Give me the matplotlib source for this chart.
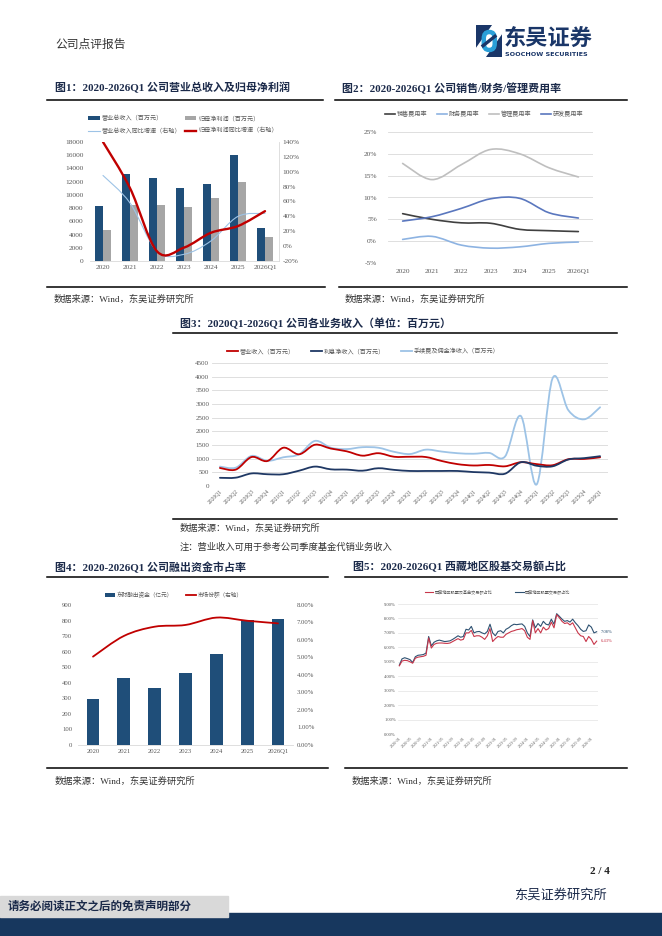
import numpy as np
import matplotlib
matplotlib.use('Agg')
import matplotlib.pyplot as plt
from matplotlib.path import Path
from matplotlib.patches import PathPatch, Rectangle, Patch, FancyBboxPatch, Polygon
from matplotlib.lines import Line2D

# ---------------- data ----------------
years1 = ['2020', '2021', '2022', '2023', '2024', '2025', '2026Q1']
revenue1 = [8300, 13100, 12500, 11100, 11600, 16100, 5000]
netprofit1 = [4700, 8500, 8450, 8150, 9600, 12000, 3700]
rev_yoy1 = [95, 58, -7, -11, 7, 40, 44]
np_yoy1 = [140, 78, -7, -2, 18, 27, 47]

years2 = ['2020', '2021', '2022', '2023', '2024', '2025', '2026Q1']
sales_rate = [6.3, 5.0, 4.2, 4.1, 2.7, 2.4, 2.2]
fin_rate = [0.4, 1.1, -0.9, -1.6, -1.3, -0.5, -0.2]
admin_rate = [17.8, 14.1, 17.5, 21.0, 20.0, 16.8, 14.7]
rd_rate = [4.6, 5.6, 7.5, 9.7, 9.8, 6.5, 5.3]

quarters3 = ['2020Q1', '2020Q2', '2020Q3', '2020Q4', '2021Q1', '2021Q2', '2021Q3', '2021Q4',
             '2022Q1', '2022Q2', '2022Q3', '2022Q4', '2023Q1', '2023Q2', '2023Q3', '2023Q4',
             '2024Q1', '2024Q2', '2024Q3', '2024Q4', '2025Q1', '2025Q2', '2025Q3', '2025Q4', '2026Q1']
op_income3 = [660, 600, 1060, 915, 1400, 1160, 1510, 1370, 1270, 1110, 1200, 1070, 1070,
              1060, 915, 800, 750, 770, 720, 870, 800, 760, 980, 990, 1050]
int_income3 = [300, 305, 460, 430, 430, 560, 710, 610, 600, 560, 650, 590, 550,
               550, 550, 550, 510, 490, 450, 870, 740, 720, 970, 1020, 1090]
fee_income3 = [710, 670, 1100, 920, 1050, 1160, 1650, 1400, 1350, 1420, 1400, 1250, 1170,
               1330, 1260, 1200, 1180, 1210, 1080, 2560, 60, 3940, 2770, 2440, 2880]

years4 = ['2020', '2021', '2022', '2023', '2024', '2025', '2026Q1']
margin_fin4 = [296, 433, 364, 460, 587, 803, 810]
mkt_share4 = [5.05, 6.23, 6.76, 6.86, 7.28, 7.10, 6.95]

xt_labels5 = ['2020-01', '2020-05', '2020-09', '2021-01', '2021-05', '2021-09', '2022-01',
              '2022-05', '2022-09', '2023-01', '2023-05', '2023-09', '2024-01', '2024-05',
              '2024-09', '2025-01', '2025-05', '2025-09', '2026-01']
stock_share5 = [4.77, 5.20, 5.28, 5.22, 5.15, 4.95, 5.35, 5.45, 5.47, 5.50, 5.60, 6.75, 6.10,
                6.35, 6.45, 6.50, 6.45, 6.40, 6.42, 6.45, 6.55, 6.67, 6.80, 6.70, 6.75, 7.25,
                7.20, 7.45, 7.00, 7.08, 7.10, 7.00, 6.93, 7.10, 7.60, 7.00, 6.80, 7.10, 7.15,
                7.00, 7.25, 7.35, 7.50, 7.60, 7.57, 7.60, 7.62, 7.45, 7.00, 6.75, 7.90, 7.35,
                7.65, 7.45, 7.80, 7.60, 7.55, 7.95, 7.60, 8.33, 8.15, 7.95, 7.80, 7.85, 7.75,
                7.95, 7.70, 7.50, 7.25, 7.10, 7.15, 7.55, 7.40, 7.00, 7.08]
stockfund_share5 = [4.72, 5.05, 5.10, 5.08, 5.00, 4.90, 5.25, 5.32, 5.35, 5.38, 5.45, 6.65, 5.95,
                    6.20, 6.28, 6.30, 6.30, 6.28, 6.27, 6.30, 6.40, 6.50, 6.60, 6.50, 6.55, 7.00,
                    7.00, 7.17, 6.75, 6.80, 6.80, 6.70, 6.55, 6.80, 7.30, 6.40, 6.60, 6.75, 6.70,
                    6.70, 6.90, 7.00, 7.10, 7.15, 7.22, 7.25, 7.30, 7.15, 6.70, 6.55, 7.85, 7.00,
                    7.30, 7.00, 7.40, 7.20, 7.30, 7.75, 7.35, 8.26, 8.05, 7.80, 7.65, 7.70, 7.55,
                    7.70, 7.35, 7.00, 6.80, 6.75, 6.40, 6.75, 6.55, 6.20, 6.43]

# ---------------- setup ----------------
W, H = 662, 936
CJK = ['Noto Sans CJK SC', 'DejaVu Sans']
plt.rcParams['font.family'] = ['Liberation Serif', 'Noto Sans CJK SC', 'DejaVu Sans']
plt.rcParams['axes.unicode_minus'] = False
fig = plt.figure(figsize=(W / 100, H / 100), dpi=100)

NAVY = '#1f4e79'
GRAYB = '#a6a6a6'
RED = '#c00000'
LBLUE = '#9dc3e6'
TICK = '#595959'
TITLE = '#1b2a4a'
GRID = '#d9d9d9'


def add_ax(x0, y0, x1, y1):
    return fig.add_axes([x0 / W, 1 - y1 / H, (x1 - x0) / W, (y1 - y0) / H])


def ftext(x, y, s, **kw):
    kw.setdefault('va', 'center')
    fig.text(x / W, 1 - y / H, s, **kw)


def hline(x0, x1, y, lw=1.1, color='black'):
    fig.add_artist(Line2D([x0 / W, x1 / W], [1 - y / H, 1 - y / H], lw=lw, color=color,
                          transform=fig.transFigure))


def smooth(ax, x, y, color, lw, zorder=3):
    x = np.asarray(x, float)
    y = np.asarray(y, float)
    n = len(x)
    verts = [(x[0], y[0])]
    codes = [Path.MOVETO]
    for i in range(n - 1):
        a = i - 1 if i > 0 else 0
        b = i + 2 if i + 2 < n else n - 1
        c1 = (x[i] + (x[i + 1] - x[a]) / 6, y[i] + (y[i + 1] - y[a]) / 6)
        c2 = (x[i + 1] - (x[b] - x[i]) / 6, y[i + 1] - (y[b] - y[i]) / 6)
        verts += [c1, c2, (x[i + 1], y[i + 1])]
        codes += [Path.CURVE4] * 3
    ax.add_patch(PathPatch(Path(verts, codes), facecolor='none', edgecolor=color, lw=lw,
                           zorder=zorder, capstyle='round', joinstyle='round'))


def legend_at(ax, handles, labels, x, y, ncol, fs, hl, cs, htp=0.4, ls=0.6):
    leg = ax.legend(handles, labels, loc='center left', bbox_to_anchor=(x / W, 1 - y / H),
                    bbox_transform=fig.transFigure, ncol=ncol, frameon=False,
                    handlelength=hl, columnspacing=cs, handletextpad=htp, borderpad=0,
                    borderaxespad=0, labelspacing=ls, prop={'family': CJK, 'size': fs})
    for t in leg.get_texts():
        t.set_color(TICK)
    return leg


def clean(ax, keep=()):
    for s in ['top', 'bottom', 'left', 'right']:
        ax.spines[s].set_visible(s in keep)


# ---------------- header ----------------
ftext(55, 44, '公司点评报告', fontsize=8.5, color='#333333', family=CJK)
lax = add_ax(476, 25, 502, 57)
lax.set_xlim(0, 1)
lax.set_ylim(0, 1)
lax.axis('off')
lax.add_patch(Rectangle((0, 0), 1, 1, color='#1a3668'))
lax.add_patch(Polygon([(0, 0), (0.35, 0), (1, 0.75), (1, 1), (0.65, 1), (0, 0.25)], color='white'))
lax.add_patch(FancyBboxPatch((0.3, 0.22), 0.42, 0.56,
                             boxstyle='round,pad=0,rounding_size=0.2', fc='none', ec='#2a9fd8', lw=3.2))
lax.add_patch(Polygon([(0.22, 0.32), (0.5, 0.5), (0.78, 0.68)], closed=False, fill=False, ec='#1a3668', lw=2.4))
ftext(504, 38, '东吴证券', fontsize=16, color='#1a3668', family=CJK, weight='bold')
ftext(505, 54, 'SOOCHOW SECURITIES', fontsize=4.6, color='#1a3668', family=['DejaVu Sans'], weight='bold')

# ---------------- titles / separators ----------------
TFS = 7.9
ftext(55, 88, '图1：2020-2026Q1 公司营业总收入及归母净利润', fontsize=TFS, weight='bold', color=TITLE)
ftext(342, 88, '图2：2020-2026Q1 公司销售/财务/管理费用率', fontsize=TFS, weight='bold', color=TITLE)
hline(47, 323, 100)
hline(335, 627, 100)
hline(47, 325, 287)
hline(339, 627, 287)
ftext(54, 299, '数据来源：Wind，东吴证券研究所', fontsize=6.7, color='#333333')
ftext(345, 299, '数据来源：Wind，东吴证券研究所', fontsize=6.7, color='#333333')

ftext(180, 323, '图3：2020Q1-2026Q1 公司各业务收入（单位：百万元）', fontsize=TFS, weight='bold', color=TITLE)
hline(173, 617, 333)
hline(173, 617, 519)
ftext(180, 528, '数据来源：Wind，东吴证券研究所', fontsize=6.7, color='#333333')
ftext(180, 547, '注：营业收入可用于参考公司季度基金代销业务收入', fontsize=6.7, color='#333333')

ftext(55, 567, '图4：2020-2026Q1 公司融出资金市占率', fontsize=TFS, weight='bold', color=TITLE)
ftext(353, 567, '图5：2020-2026Q1 西藏地区股基交易额占比', fontsize=TFS, weight='bold', color=TITLE)
hline(47, 328, 577)
hline(345, 627, 577)
hline(47, 328, 768)
hline(345, 627, 768)
ftext(55, 781, '数据来源：Wind，东吴证券研究所', fontsize=6.7, color='#333333')
ftext(352, 781, '数据来源：Wind，东吴证券研究所', fontsize=6.7, color='#333333')

# ---------------- Fig 1 ----------------
ax1 = add_ax(89.5, 142, 278.5, 261)
x1 = np.arange(len(years1))
ax1.bar(x1 - 0.15, revenue1, 0.3, color=NAVY, zorder=2)
ax1.bar(x1 + 0.15, netprofit1, 0.3, color=GRAYB, zorder=2)
ax1.set_xlim(-0.5, len(years1) - 0.5)
ax1.set_ylim(0, 18000)
ax1.set_yticks(range(0, 18001, 2000))
ax1.set_xticks(x1)
ax1.set_xticklabels(years1)
clean(ax1, keep=('bottom',))
ax1.spines['bottom'].set_color(GRID)
ax1.spines['bottom'].set_linewidth(0.6)
ax1.tick_params(axis='y', length=0, labelsize=5.3, labelcolor=TICK, pad=4.5)
ax1.tick_params(axis='x', length=0, labelsize=5.3, labelcolor=TICK, pad=3.2)
ax1r = ax1.twinx()
ax1r.set_ylim(-20, 140)
ax1r.set_yticks(range(-20, 141, 20))
ax1r.set_yticklabels([f'{v}%' for v in range(-20, 141, 20)])
clean(ax1r, keep=('right',))
ax1r.spines['right'].set_color(GRID)
ax1r.spines['right'].set_linewidth(0.6)
ax1r.tick_params(axis='y', length=0, labelsize=5.3, labelcolor=TICK, pad=3)
smooth(ax1r, x1, rev_yoy1, LBLUE, 0.8)
smooth(ax1r, x1, np_yoy1, RED, 1.7)
legend_at(ax1r,
          [Patch(facecolor=NAVY), Line2D([], [], color=LBLUE, lw=0.8),
           Patch(facecolor=GRAYB), Line2D([], [], color=RED, lw=1.7)],
          ['营业总收入（百万元）', '营业总收入同比增速（右轴）', '归母净利润（百万元）', '归母净利润同比增速（右轴）'],
          88, 124.5, 2, 4.4, 1.9, 0.6, htp=0.3, ls=0.75)

# ---------------- Fig 2 ----------------
ax2 = add_ax(388, 132, 593, 263)
x2 = np.arange(len(years2))
ax2.set_xlim(-0.5, len(years2) - 0.5)
ax2.set_ylim(-5, 25)
ax2.set_yticks(range(-5, 26, 5))
ax2.set_yticklabels([f'{v}%' for v in range(-5, 26, 5)])
ax2.set_xticks(x2)
ax2.set_xticklabels(years2)
clean(ax2)
ax2.grid(axis='y', color=GRID, lw=0.6)
ax2.set_axisbelow(True)
ax2.tick_params(axis='y', length=0, labelsize=5.3, labelcolor=TICK, pad=8)
ax2.tick_params(axis='x', length=0, labelsize=5.3, labelcolor=TICK, pad=4)
c_sales, c_fin, c_admin, c_rd = '#404040', '#8db3e2', '#bfbfbf', '#5a77be'
smooth(ax2, x2, sales_rate, c_sales, 1.2)
smooth(ax2, x2, fin_rate, c_fin, 1.2)
smooth(ax2, x2, admin_rate, c_admin, 1.2)
smooth(ax2, x2, rd_rate, c_rd, 1.2)
legend_at(ax2, [Line2D([], [], color=c, lw=1.2) for c in (c_sales, c_fin, c_admin, c_rd)],
          ['销售费用率', '财务费用率', '管理费用率', '研发费用率'], 385, 114, 4, 4.4, 1.6, 1.6, htp=0.3)

# ---------------- Fig 3 ----------------
ax3 = add_ax(212, 363, 608, 486)
x3 = np.arange(len(quarters3))
ax3.set_xlim(-0.5, len(quarters3) - 0.5)
ax3.set_ylim(0, 4500)
ax3.set_yticks(range(0, 4501, 500))
ax3.set_xticks(x3)
ax3.set_xticklabels(quarters3, rotation=45, ha='right', rotation_mode='anchor')
clean(ax3)
ax3.grid(axis='y', color=GRID, lw=0.6)
ax3.set_axisbelow(True)
ax3.tick_params(axis='y', length=0, labelsize=5.0, labelcolor=TICK, pad=2)
ax3.tick_params(axis='x', length=0, labelsize=4.0, labelcolor=TICK, pad=2)
c3_red, c3_navy, c3_lb = '#c00000', '#1f3864', '#9dc3e6'
smooth(ax3, x3, fee_income3, c3_lb, 1.3, zorder=3)
smooth(ax3, x3, op_income3, c3_red, 1.3, zorder=4)
smooth(ax3, x3, int_income3, c3_navy, 1.3, zorder=5)
legend_at(ax3, [Line2D([], [], color=c, lw=1.3) for c in (c3_red, c3_navy, c3_lb)],
          ['营业收入（百万元）', '利息净收入（百万元）', '手续费及佣金净收入（百万元）'],
          227, 351, 3, 4.4, 1.8, 2.6, htp=0.3)

# ---------------- Fig 4 ----------------
ax4 = add_ax(77.6, 605, 293.4, 745)
x4 = np.arange(len(years4))
ax4.bar(x4, margin_fin4, 0.42, color=NAVY, zorder=2)
ax4.set_xlim(-0.5, len(years4) - 0.5)
ax4.set_ylim(0, 900)
ax4.set_yticks(range(0, 901, 100))
ax4.set_xticks(x4)
ax4.set_xticklabels(years4)
clean(ax4, keep=('bottom',))
ax4.spines['bottom'].set_color(GRID)
ax4.spines['bottom'].set_linewidth(0.6)
ax4.tick_params(axis='y', length=0, labelsize=4.8, labelcolor=TICK, pad=4)
ax4.tick_params(axis='x', length=0, labelsize=4.8, labelcolor=TICK, pad=3.2)
ax4r = ax4.twinx()
ax4r.set_ylim(0, 8)
ax4r.set_yticks(range(0, 9))
ax4r.set_yticklabels([f'{v:.2f}%' for v in range(0, 9)])
clean(ax4r)
ax4r.tick_params(axis='y', length=0, labelsize=4.8, labelcolor=TICK, pad=2.6)
smooth(ax4r, x4, mkt_share4, RED, 1.3)
legend_at(ax4r, [Patch(facecolor=NAVY), Line2D([], [], color=RED, lw=1.3)],
          ['东财融出资金（亿元）', '市场份额（右轴）'], 105, 595, 2, 4.1, 1.8, 2.2, htp=0.3)

# ---------------- Fig 5 ----------------
ax5 = add_ax(398, 604, 598, 734)
x5 = np.arange(len(stock_share5))
c5_red, c5_navy = '#c8374b', '#2f5272'
ax5.plot(x5, stock_share5, color=c5_navy, lw=0.8, zorder=3)
ax5.plot(x5, stockfund_share5, color=c5_red, lw=0.8, zorder=3)
ax5.set_xlim(-0.5, len(x5) - 0.5)
ax5.set_ylim(0, 9)
ax5.set_yticks(range(0, 10))
ax5.set_yticklabels([f'{v:.2f}%' for v in range(0, 10)])
ax5.set_xticks(x5[::4])
ax5.set_xticklabels(xt_labels5, rotation=45, ha='right', rotation_mode='anchor')
clean(ax5)
ax5.grid(axis='y', color='#e3e3e3', lw=0.5)
ax5.set_axisbelow(True)
ax5.tick_params(axis='y', length=0, labelsize=3.3, labelcolor=TICK, pad=1.5)
ax5.tick_params(axis='x', length=0, labelsize=3.0, labelcolor=TICK, pad=1.5)
ax5.annotate(f'{stock_share5[-1]:.2f}%', (x5[-1], stock_share5[-1]), xytext=(3, 0),
             textcoords='offset points', fontsize=3.3, color=c5_navy, va='center')
ax5.annotate(f'{stockfund_share5[-1]:.2f}%', (x5[-1], stockfund_share5[-1]), xytext=(3, 0),
             textcoords='offset points', fontsize=3.3, color=c5_red, va='center')
legend_at(ax5, [Line2D([], [], color=c5_red, lw=0.8), Line2D([], [], color=c5_navy, lw=0.8)],
          ['西藏地区股票及基金交易额占比', '西藏地区股票交易额占比'], 425, 592, 2, 3.0, 2.0, 5.5, htp=0.3)

# ---------------- footer ----------------
ftext(610, 872, '2 / 4', fontsize=8, weight='bold', color='#222222', ha='right')
ftext(607, 895, '东吴证券研究所', fontsize=9.5, color='#1b2a4a', ha='right', family=CJK)
fig.add_artist(Rectangle((0, 0), 1, (936 - 913) / H, transform=fig.transFigure,
                         color='#17375e', zorder=1))
fig.add_artist(Rectangle((0, 1 - 917 / H), 228 / W, 21 / H, transform=fig.transFigure,
                         color='#d9d9d9', zorder=2))
ftext(8, 906, '请务必阅读正文之后的免责声明部分', fontsize=8.3, weight='bold', color='#1b2a4a',
      family=CJK, zorder=3)

fig.savefig('out.png', dpi=100)
